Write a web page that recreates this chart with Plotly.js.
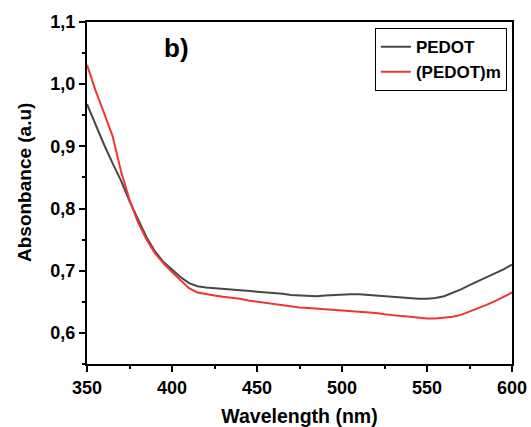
<!DOCTYPE html>
<html>
<head>
<meta charset="utf-8">
<script src="https://cdn.plot.ly/plotly-3.0.1.min.js"></script>
<style>html,body{margin:0;padding:0;background:#fff}#chart{width:531px;height:427px}</style>
</head>
<body>
<div id="chart"></div>
<script>
const wavelength = [350,355,360,365,370,375,380,385,390,395,400,405,410,415,420,425,430,435,440,445,450,455,460,465,470,475,480,485,490,495,500,505,510,515,520,525,530,535,540,545,550,555,560,565,570,575,580,585,590,595,600];
const pedot = [0.968,0.935,0.903,0.873,0.845,0.812,0.782,0.754,0.731,0.714,0.702,0.690,0.680,0.675,0.673,0.672,0.670,0.669,0.668,0.667,0.666,0.665,0.664,0.663,0.661,0.660,0.659,0.659,0.660,0.661,0.661,0.662,0.662,0.661,0.659,0.658,0.657,0.656,0.655,0.655,0.655,0.656,0.659,0.664,0.670,0.677,0.683,0.689,0.695,0.702,0.710];
const pedotM = [1.031,0.990,0.954,0.917,0.860,0.814,0.778,0.750,0.728,0.712,0.698,0.685,0.672,0.665,0.662,0.660,0.658,0.657,0.655,0.652,0.650,0.648,0.647,0.645,0.643,0.641,0.640,0.639,0.638,0.637,0.637,0.636,0.635,0.634,0.632,0.630,0.628,0.627,0.626,0.624,0.623,0.623,0.624,0.626,0.629,0.634,0.639,0.645,0.651,0.658,0.665];
const seriesNames = ['PEDOT', '(PEDOT)m'];
const xTicks = [350,400,450,500,550,600];
const yTicks = [0.6,0.7,0.8,0.9,1.0,1.1];
const xTitle = 'Wavelength (nm)';
const yTitle = 'Absonbance (a.u)';
const panelLabel = 'b)';

const fam = 'Liberation Sans, Arial, sans-serif';
const traces = [
  {x: wavelength, y: pedot, name: seriesNames[0], mode: 'lines', line: {color: '#474747', width: 2}},
  {x: wavelength, y: pedotM, name: seriesNames[1], mode: 'lines', line: {color: '#f03535', width: 2}}
];
const axisCommon = {
  showline: true, linecolor: '#000', linewidth: 2, mirror: true,
  ticks: 'outside', ticklen: 6, tickwidth: 2, tickcolor: '#000',
  showgrid: false, zeroline: false,
  tickfont: {family: fam, size: 18, color: '#000', weight: 'bold'}
};
const layout = {
  width: 531, height: 427,
  margin: {l: 87, r: 19, t: 22, b: 63},
  paper_bgcolor: '#fff', plot_bgcolor: '#fff',
  separators: ',.',
  showlegend: true,
  legend: {x: 0.988, xanchor: 'right', y: 0.982, yanchor: 'top', bordercolor: '#000', borderwidth: 1,
    bgcolor: '#fff', font: {family: fam, size: 17, color: '#000', weight: 'bold'}, tracegroupgap: 0, itemwidth: 30},
  xaxis: Object.assign({}, axisCommon, {
    range: [350, 600], tickvals: xTicks,
    minor: {dtick: 25, tick0: 350, ticks: 'outside', ticklen: 3, tickwidth: 2, tickcolor: '#000'},
    title: {text: xTitle, font: {family: fam, size: 19.5, color: '#000', weight: 'bold'}, standoff: 13}
  }),
  yaxis: Object.assign({}, axisCommon, {
    range: [0.55, 1.1], tickvals: yTicks, tickformat: '.1f',
    minor: {dtick: 0.05, tick0: 0.55, ticks: 'outside', ticklen: 3, tickwidth: 2, tickcolor: '#000'}
  }),
  annotations: [
    {text: panelLabel, xref: 'paper', yref: 'paper', x: (176-87)/425, y: (364-48)/342,
      xanchor: 'center', yanchor: 'middle',
      showarrow: false, font: {family: fam, size: 26, color: '#000', weight: 'bold'}},
    {text: yTitle, xref: 'paper', yref: 'paper', x: (25-87)/425, y: (364-183)/342,
      xanchor: 'center', yanchor: 'middle', textangle: -90,
      showarrow: false, font: {family: fam, size: 19, color: '#000', weight: 'bold'}}
  ]
};
Plotly.newPlot('chart', traces, layout, {displayModeBar: false, staticPlot: true});
</script>
</body>
</html>
